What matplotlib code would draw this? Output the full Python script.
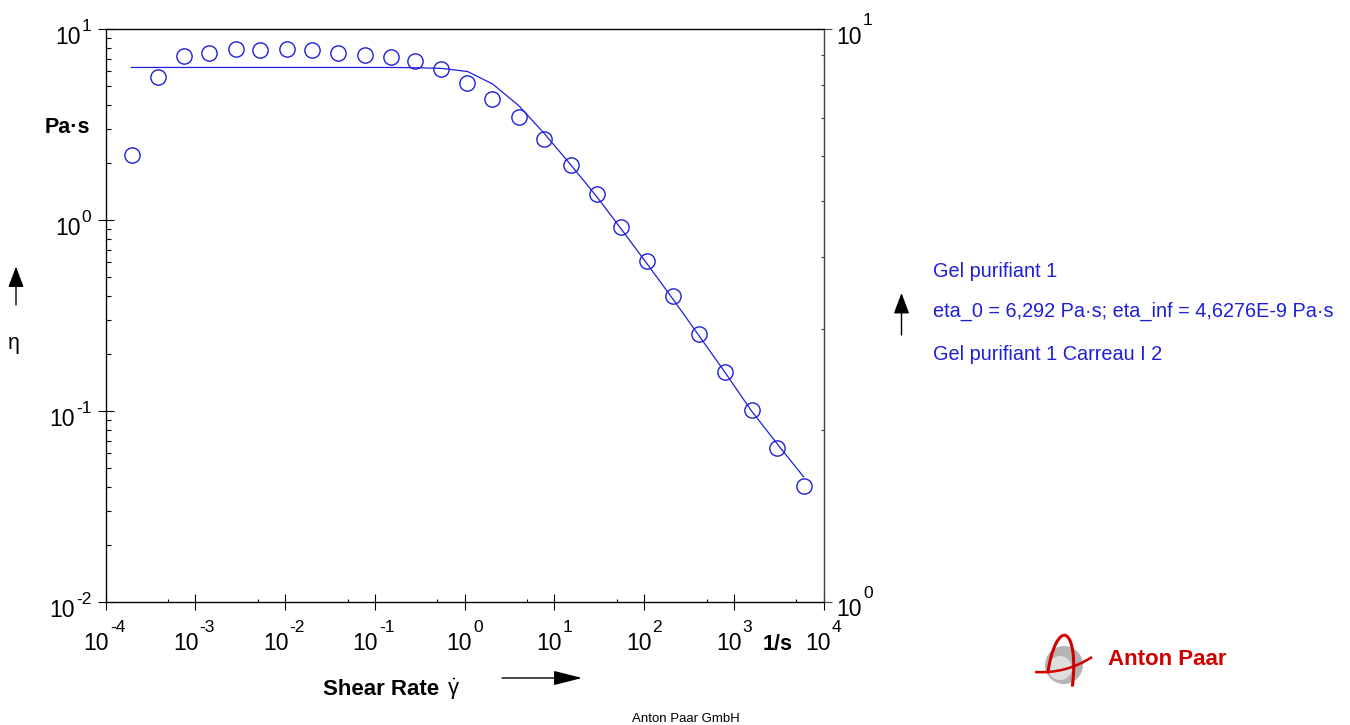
"""Flow curve of Gel purifiant 1 with Carreau fit (Anton Paar style)."""

import matplotlib

matplotlib.use("Agg")
import matplotlib.pyplot as plt
from matplotlib.patches import Arc, Circle, FancyArrowPatch, PathPatch
from matplotlib.path import Path
from matplotlib.ticker import LogLocator, NullFormatter
from matplotlib.transforms import IdentityTransform

plt.rcParams["font.family"] = ["Liberation Sans", "DejaVu Sans"]
plt.rcParams["mathtext.fontset"] = "custom"
plt.rcParams["mathtext.rm"] = "Liberation Sans"
plt.rcParams["mathtext.it"] = "Liberation Sans"

BLUE = "#1f1fd9"
RED = "#d00000"
W, H = 1350, 725

# measured points: shear rate [1/s] and viscosity [Pa·s]
shear_rate = [
    1.95e-4, 3.80e-4, 7.40e-4, 1.44e-3, 2.81e-3, 5.33e-3, 1.04e-2, 2.02e-2, 3.94e-2,
    7.69e-2, 0.150, 0.284, 0.554, 1.08, 2.05, 4.00, 7.78, 15.2, 29.6, 56.1, 109,
    213, 415, 809, 1578, 3070, 5990,
]
viscosity = [
    2.18, 5.62, 7.23, 7.50, 7.87, 7.77, 7.87, 7.77, 7.50, 7.32, 7.14, 6.81, 6.18,
    5.23, 4.32, 3.48, 2.64, 1.93, 1.36, 0.916, 0.608, 0.400, 0.253, 0.160, 0.1016,
    0.0644, 0.0403,
]
# Carreau fit curve evaluated at the same shear rates
fit_viscosity = [
    6.29, 6.29, 6.29, 6.29, 6.29, 6.29, 6.29, 6.29, 6.29, 6.29, 6.29, 6.27, 6.22,
    5.99, 5.16, 3.98, 2.83, 1.95, 1.33, 0.894, 0.587, 0.382, 0.246, 0.158, 0.100,
    0.067, 0.0453,
]

x_decades = [-4, -3, -2, -1, 0, 1, 2, 3, 4]
y_decades = [-2, -1, 0, 1]
y2_decades = [0, 1]

legend_lines = [
    "Gel purifiant 1",
    "eta_0 = 6,292 Pa·s; eta_inf = 4,6276E-9 Pa·s",
    "Gel purifiant 1 Carreau I 2",
]


def fp(x, y):
    """Figure fraction from reference pixel coords (origin top-left)."""
    return x / W, 1 - y / H


def arrow(x0, y0, x1, y1, head_length=0.4, head_width=0.15):
    style = f"-|>,head_length={head_length},head_width={head_width}"
    fig.add_artist(
        FancyArrowPatch(
            (x0, H - y0),
            (x1, H - y1),
            transform=IdentityTransform(),
            arrowstyle=style,
            mutation_scale=32,
            color="black",
            linewidth=1.0,
            shrinkA=0,
            shrinkB=0,
        )
    )


fig = plt.figure(figsize=(W / 100, H / 100), dpi=100)
ax = fig.add_axes([105.5 / W, 1 - 602 / H, 718 / W, 573 / H])

ax.plot(shear_rate, fit_viscosity, color=BLUE, linewidth=0.9)
ax.plot(
    shear_rate, viscosity, "o", mfc="none", mec=BLUE, ms=11, mew=1.0, clip_on=False
)

ax.set_xscale("log")
ax.set_yscale("log")
ax.set_xlim(1e-4, 1e4)
ax.set_ylim(1e-2, 1e1)
ax.xaxis.set_minor_locator(LogLocator(base=10, subs=[5]))
ax.xaxis.set_minor_formatter(NullFormatter())
ax.yaxis.set_minor_locator(LogLocator(base=10, subs=range(2, 10)))
ax.yaxis.set_minor_formatter(NullFormatter())
ax.xaxis.set_ticks_position("bottom")
ax.yaxis.set_ticks_position("left")
ax.tick_params(axis="x", which="major", direction="inout", length=12, width=0.8,
               labelbottom=False)
ax.tick_params(axis="x", which="minor", direction="in", length=2.2, width=0.8)
ax.tick_params(axis="y", which="major", direction="inout", length=11.5, width=0.8,
               labelleft=False)
ax.tick_params(axis="y", which="minor", direction="in", length=3.6, width=0.8)
for s in ax.spines.values():
    s.set_linewidth(0.9)

ax2 = ax.twinx()
ax2.set_yscale("log")
ax2.set_ylim(1, 10)
ax2.yaxis.set_minor_locator(LogLocator(base=10, subs=range(2, 10)))
ax2.yaxis.set_minor_formatter(NullFormatter())
ax2.tick_params(axis="y", which="major", direction="inout", length=11, width=0.8,
                labelright=False, color="#444444")
ax2.tick_params(axis="y", which="minor", direction="in", length=2.5, width=0.8,
                color="#444444")
ax2.spines["right"].set_color("#444444")

# --- tick labels as "10" with a raised exponent ---
kw_base = dict(textcoords="offset pixels", va="baseline", fontsize=16.5,
               annotation_clip=False)
kw_exp = dict(textcoords="offset pixels", va="baseline", fontsize=12.5,
              annotation_clip=False)

for d in x_decades:
    v = 10.0 ** d
    dx = 3.5 if d < 0 else 7.5
    base = ax.annotate("10", xy=(v, 0), xycoords=("data", "axes fraction"),
                       xytext=(dx, -47.5), ha="right", **kw_base)
    ax.annotate(str(d), xy=(1, 0), xycoords=(base, "axes fraction"),
                xytext=(1, -29.5), ha="left", **kw_exp)

for d in y_decades:
    v = 10.0 ** d
    ex = ax.annotate(str(d), xy=(0, v), xycoords=("axes fraction", "data"),
                     xytext=(-14, -2), ha="right", **kw_exp)
    ax.annotate("10", xy=(0, v), xycoords=(ex, "data"),
                xytext=(-1, -15), ha="right", **kw_base)

for d in y2_decades:
    v = 10.0 ** d
    base = ax2.annotate("10", xy=(1, v), xycoords=("axes fraction", "data"),
                        xytext=(13, -14.5), ha="left", **kw_base)
    ax2.annotate(str(d), xy=(1, v), xycoords=(base, "data"),
                 xytext=(1, 4), ha="left", **kw_exp)

# --- axis titles and arrows ---
fig.text(*fp(45, 133), "Pa·s", fontsize=15.5, fontweight="bold", va="baseline")
fig.text(*fp(8, 348.5), "η", fontsize=15.5, va="baseline")
arrow(16, 305, 16, 266.5)

fig.text(*fp(323, 695), "Shear Rate", fontsize=16, fontweight="bold", va="baseline")
fig.text(*fp(447, 695), r"$\dot{\mathrm{\gamma}}$", fontsize=16, va="baseline")
arrow(502, 678, 582, 678, head_length=0.55, head_width=0.14)
fig.text(*fp(763, 649.5), "1/s", fontsize=15.5, fontweight="bold", va="baseline")

# --- legend block ---
arrow(901.5, 335, 901.5, 293)
for txt, yb in zip(legend_lines, [276.7, 316.7, 360]):
    fig.text(*fp(933, yb), txt, fontsize=14.3, color=BLUE, va="baseline")

# --- footer and logo ---
fig.text(*fp(686, 722), "Anton Paar GmbH", fontsize=9.5, ha="center", va="baseline")

ident = IdentityTransform()
cx, cy = 1064, H - 665
fig.add_artist(Circle((cx, cy), 19, transform=ident, facecolor="#b4b4b4",
                      edgecolor="none"))
fig.add_artist(Circle((cx - 4, cy - 3), 12, transform=ident, facecolor="#dedede",
                      edgecolor="none"))
fig.add_artist(Arc((1060, H - 680), 26, 90, angle=-6, theta1=-22, theta2=158,
                   transform=ident, color=RED, linewidth=2.2))
swoosh = Path(
    [(1035, H - 672), (1066, H - 674), (1092, H - 657)],
    [Path.MOVETO, Path.CURVE3, Path.CURVE3],
)
fig.add_artist(PathPatch(swoosh, transform=ident, facecolor="none",
                         edgecolor=RED, linewidth=1.8))
fig.text(*fp(1108, 665), "Anton Paar", fontsize=16, fontweight="bold",
         color=RED, va="baseline")

fig.savefig("out.png", dpi=100)
